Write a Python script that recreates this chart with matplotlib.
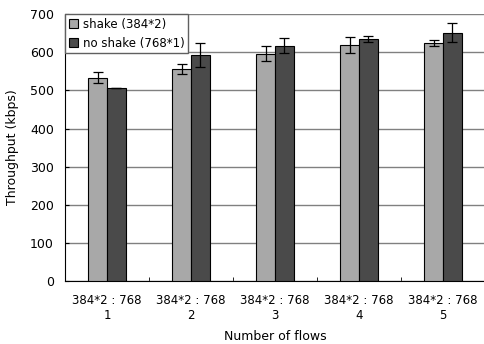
import numpy as np
import matplotlib.pyplot as plt

flows = ["1", "2", "3", "4", "5"]
ratio_label = "384*2 : 768"
shake = [533, 556, 596, 619, 625]
shake_err = [14, 14, 20, 21, 8]
no_shake = [506, 593, 617, 635, 651]
no_shake_err = [0, 31, 20, 8, 25]

fig = plt.figure(figsize=(4.85, 3.44), dpi=100)
ax = fig.add_axes([0.134, 0.183, 0.866, 0.776])

x = np.arange(len(flows))
w = 0.225
ax.bar(x - w / 2, shake, w, color="#a8a8a8", edgecolor="black", linewidth=0.8,
       yerr=shake_err, error_kw=dict(ecolor="black", elinewidth=0.9, capsize=3.5, capthick=0.9),
       label="shake (384*2)", zorder=3)
ax.bar(x + w / 2, no_shake, w, color="#4a4a4a", edgecolor="black", linewidth=0.8,
       yerr=no_shake_err, error_kw=dict(ecolor="black", elinewidth=0.9, capsize=3.5, capthick=0.9),
       label="no shake (768*1)", zorder=3)

ax.set_xlim(-0.5, len(flows) - 0.5)
ax.set_ylim(0, 700)
ax.set_yticks(range(0, 701, 100))
ax.yaxis.grid(True, color="#808080", linewidth=1.0, zorder=0)
ax.set_axisbelow(True)

ax.set_xticks(x)
ax.set_xticklabels([f"{ratio_label}\n{f}" for f in flows], fontsize=8.5)
ax.set_xticks(np.arange(-0.5, len(flows)), minor=True)
ax.tick_params(axis="x", which="major", length=0, pad=9)
ax.tick_params(axis="x", which="minor", length=3, direction="in")
ax.tick_params(axis="y", length=3, direction="in", labelsize=9, pad=8)

for s in ["top", "right"]:
    ax.spines[s].set_visible(False)

ax.set_xlabel("Number of flows", fontsize=9, labelpad=6)
ax.set_ylabel("Throughput (kbps)", fontsize=9, labelpad=8)

ax.legend(loc="upper left", bbox_to_anchor=(0.0, 1.0), fontsize=8.5, frameon=True, fancybox=False,
          edgecolor="#606060", framealpha=1, borderaxespad=0, handlelength=0.8, handleheight=0.8,
          handletextpad=0.4, borderpad=0.3, labelspacing=0.5)

fig.savefig("out.png", dpi=100)
